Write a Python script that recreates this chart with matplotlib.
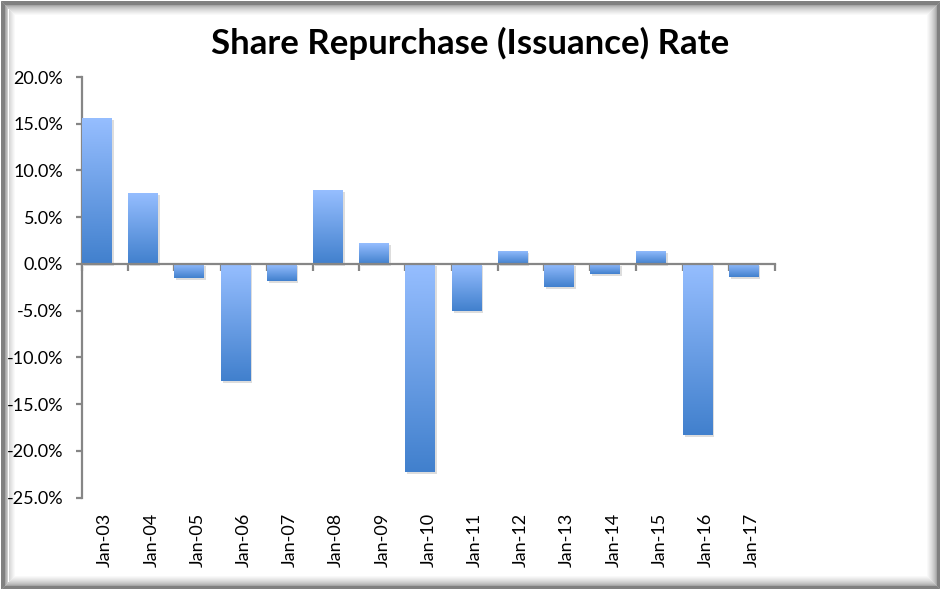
import numpy as np
import matplotlib
matplotlib.use('Agg')
import matplotlib.pyplot as plt
import matplotlib.patheffects as pe
from matplotlib.patches import Rectangle
from matplotlib.colors import LinearSegmentedColormap
from matplotlib.ticker import FuncFormatter

# Data (percent)
years = ['Jan-03', 'Jan-04', 'Jan-05', 'Jan-06', 'Jan-07', 'Jan-08', 'Jan-09', 'Jan-10',
         'Jan-11', 'Jan-12', 'Jan-13', 'Jan-14', 'Jan-15', 'Jan-16', 'Jan-17']
rates = [15.6, 7.6, -1.5, -12.5, -1.8, 7.9, 2.2, -22.2, -5.0, 1.4, -2.5, -1.1, 1.4, -18.3, -1.4]
y_ticks = [-25, -20, -15, -10, -5, 0, 5, 10, 15, 20]

W, H = 940, 589
plt.rcParams['font.family'] = ['Lato', 'DejaVu Sans']

fig = plt.figure(figsize=(W / 100, H / 100), dpi=100)
fig.patch.set_facecolor('white')

# frame with inner shadow
n = 15
for k in range(n):
    if k < 3:
        g = 0.5
    else:
        t = (k - 3) / (n - 4)
        g = 0.5 + 0.5 * np.sqrt(t)
    fig.patches.append(Rectangle(((k + 0.5) / W, (k + 0.5) / H), (W - 2 * k - 1) / W, (H - 2 * k - 1) / H,
                                 transform=fig.transFigure, fill=False, edgecolor=(g, g, g),
                                 linewidth=0.72, zorder=-1))

ax = fig.add_axes([82 / W, 91.3 / H, (775 - 82) / W, (512 - 91.3) / H])
ax.patch.set_alpha(0)

cmap = LinearSegmentedColormap.from_list('bar', ['#4180CD', '#96BEFF'])
grad = np.linspace(0, 1, 256).reshape(-1, 1)

x = np.arange(len(years))
bars = ax.bar(x, rates, width=0.64, align='edge', color='#6A9FE6', zorder=2,
              path_effects=[pe.SimplePatchShadow(offset=(1.5, -1.5), shadow_rgbFace='#909090', alpha=0.3),
                            pe.Normal()])
for b in bars:
    x0, y0 = b.get_x(), b.get_y()
    w, h = b.get_width(), b.get_height()
    y_lo, y_hi = min(y0, y0 + h), max(y0, y0 + h)
    im = ax.imshow(grad, extent=(x0, x0 + w, y_lo, y_hi), origin='lower', cmap=cmap,
                   aspect='auto', zorder=3, interpolation='bilinear')
    im.set_clip_path(b)

ax.set_xlim(0, len(years))
ax.set_ylim(-25, 20)

axis_col = '#868686'
for s in ['top', 'right']:
    ax.spines[s].set_visible(False)
ax.spines['left'].set_color(axis_col)
ax.spines['left'].set_linewidth(1.6)
ax.spines['bottom'].set_color(axis_col)
ax.spines['bottom'].set_linewidth(1.6)
ax.spines['bottom'].set_position(('data', 0))
ax.spines['bottom'].set_zorder(4)

ax.set_xticks(np.arange(len(years) + 1))
ax.set_xticklabels([])
ax.tick_params(axis='x', direction='out', length=5, width=1.6, color=axis_col)

ax.set_yticks(y_ticks)
ax.yaxis.set_major_formatter(FuncFormatter(lambda v, p: f'{v:.1f}%'))
ax.tick_params(axis='y', direction='out', length=4.5, width=1.6, color=axis_col,
               labelsize=13, pad=9, labelcolor='black')

sec = ax.secondary_xaxis('bottom')
sec.set_xticks(x + 0.5)
sec.set_xticklabels(years, rotation=90, fontsize=13)
sec.tick_params(length=0, pad=11)
sec.spines['bottom'].set_visible(False)

ax.set_ylim(-25, 20)
fig.text(0.5, 1 - 43 / H, 'Share Repurchase (Issuance) Rate', ha='center', va='center',
         fontsize=25, fontweight='bold')

fig.savefig('out.png', dpi=100)
